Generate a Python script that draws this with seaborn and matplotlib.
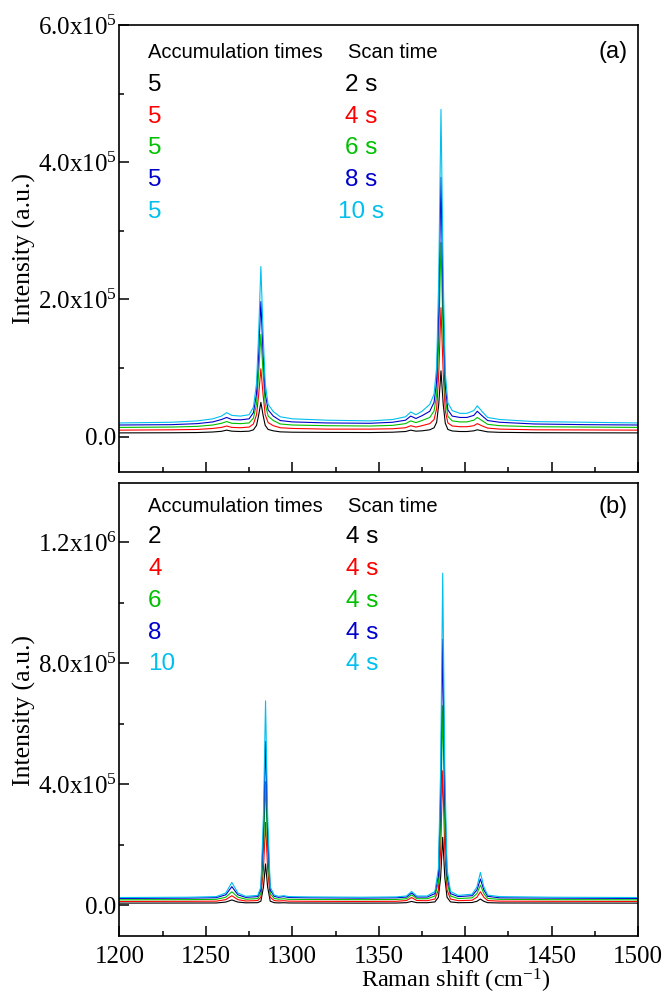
import pandas as pd
import matplotlib
matplotlib.use("Agg")
import matplotlib.pyplot as plt
from matplotlib.ticker import FixedLocator, MultipleLocator, FixedFormatter
import seaborn as sns

# intensities are given in units of 1e3 counts
UNIT = 1e3

# panel (a): 5 accumulations, scan time 2-10 s
shift_a = [1200, 1230, 1245, 1254, 1259, 1262, 1265, 1270, 1275, 1277.5,
           1279.3, 1280.5, 1281.8, 1283.1, 1284.3, 1286, 1289, 1293, 1300, 1320,
           1345, 1358, 1365.5, 1368.5, 1371.5, 1375, 1379.5, 1382, 1383.5, 1384.7,
           1386, 1387.3, 1388.5, 1390, 1392.5, 1397, 1401, 1405, 1407, 1410,
           1413, 1420, 1440, 1470, 1500]
int_a_2s = [5.5, 5.7, 6, 6.8, 7.8, 9.5, 8, 7.5, 8, 10,
            16.5, 31, 50, 31, 16.5, 10.5, 8.5, 7, 6.5, 6.2,
            6, 6.5, 7.5, 9.5, 8, 8.5, 10, 13, 21, 47,
            96, 47, 19.5, 10.5, 8.3, 7.5, 7.5, 8.5, 10, 8.5,
            7, 6.3, 5.8, 5.6, 5.5]
int_a_4s = [9.5, 10, 10.5, 12, 13.5, 15.5, 13.5, 13, 14, 18.5,
            32, 60.5, 99, 60.5, 32, 20.5, 16, 13, 12, 11,
            11, 11.5, 13, 16, 14, 16, 19, 25, 41, 92,
            188, 92, 37.5, 20, 15.6, 14.5, 14.5, 16, 19, 15.5,
            12.5, 11, 10, 9.8, 9.5]
int_a_6s = [13.5, 14, 15, 17, 19.5, 22, 19.5, 19, 20, 27,
            48, 91, 149, 91, 48, 30, 23.5, 18.5, 17, 16,
            15.5, 16.5, 19, 23, 20.5, 23.5, 28, 37.5, 61, 138,
            283, 138, 56, 29.5, 23, 21.5, 21.5, 24, 28, 23,
            18, 16, 14.5, 14, 13.5]
int_a_8s = [17, 17.5, 19, 21.5, 25, 28, 25, 24.5, 26, 35,
            63, 120, 197, 120, 63, 39, 30, 23.5, 21.5, 20,
            19.5, 21, 24, 30, 26.5, 30.5, 37, 50, 81, 184,
            378, 184, 74, 39, 30, 28, 28, 31, 37, 30,
            23.5, 21, 18.5, 17.5, 17]
int_a_10s = [20, 21, 23, 26, 30, 35, 31, 30, 32, 43,
             78, 150, 248, 150, 78, 47, 36.5, 29, 26, 24,
             23, 25, 29, 36, 32, 37, 47, 62, 102, 232,
             477, 232, 93, 49, 38, 34, 34, 38, 45, 36,
             28, 25, 22, 21, 20]

# panel (b): 2-10 accumulations, scan time 4 s
shift_b = [1200, 1240, 1256, 1261.5, 1265, 1268.5, 1273, 1280, 1281.8, 1283.3,
           1284.5, 1285.7, 1287.2, 1289.5, 1292, 1295, 1298, 1310, 1340, 1360,
           1366, 1369, 1372, 1378, 1382.5, 1384.5, 1385.8, 1387, 1388.2, 1389.5,
           1391.5, 1396, 1404, 1406.8, 1408.8, 1410.8, 1413, 1420, 1450, 1500]
int_b_2 = [6.5, 6.8, 7, 10, 17, 10, 7.5, 8, 13, 60,
           136, 60, 13, 8, 7.2, 7.8, 7, 6.8, 6.5, 6.8,
           8, 12, 8, 7.8, 10.5, 26, 92, 224, 92, 26,
           10.5, 7.8, 8.5, 12.5, 20, 12.5, 8, 7, 6.8, 6.5]
int_b_4 = [12, 12.5, 13, 18, 31, 18, 13.5, 15, 26, 120,
           273, 120, 26, 15, 13.5, 14.5, 13, 12.5, 12, 12.5,
           15, 25, 15, 14.5, 20, 50, 180, 444, 180, 50,
           20, 14.5, 16, 26, 44, 26, 15, 13, 12.5, 12]
int_b_6 = [17.5, 18, 19, 26, 44, 26, 19.5, 21.5, 38, 180,
           408, 180, 38, 22, 19.5, 21, 19, 18.5, 18, 18.5,
           21, 34, 21, 21, 30, 75, 270, 659, 270, 75,
           30, 21.5, 24, 38, 66, 38, 22, 19, 18, 17.5]
int_b_8 = [22, 23, 24.5, 34, 61, 34, 25.5, 28, 50, 240,
           541, 240, 50, 29, 25.5, 28, 25, 24, 23, 24,
           26.5, 40, 26.5, 26.5, 38, 98, 360, 879, 360, 98,
           38, 28, 31, 50, 86, 50, 29, 24, 23, 22]
int_b_10 = [25, 26, 28, 40, 75, 40, 29, 32, 60, 300,
            675, 300, 60, 33, 29, 31, 28, 27, 26, 27,
            30, 45, 30, 30, 45, 120, 450, 1097, 450, 120,
            45, 32, 36, 60, 108, 60, 33, 28, 26, 25]

scan_a = ["2 s", "4 s", "6 s", "8 s", "10 s"]
accum_a = ["5", "5", "5", "5", "5"]
accum_b = ["2", "4", "6", "8", "10"]
scan_b = ["4 s", "4 s", "4 s", "4 s", "4 s"]
colors = ["#000000", "#ff0000", "#00c000", "#0000cc", "#00bfee"]

yticks_a = [0, 2e5, 4e5, 6e5]
ylabels_a = ["0.0", r"2.0x10$^{5}$", r"4.0x10$^{5}$", r"6.0x10$^{5}$"]
yticks_b = [0, 4e5, 8e5, 1.2e6]
ylabels_b = ["0.0", r"4.0x10$^{5}$", r"8.0x10$^{5}$", r"1.2x10$^{6}$"]


def long_frame(shift, series, names):
    parts = []
    for vals, name in zip(series, names):
        parts.append(pd.DataFrame({"shift": shift,
                                   "intensity": [v * UNIT for v in vals],
                                   "series": name}))
    return pd.concat(parts, ignore_index=True)


df_a = long_frame(shift_a, [int_a_2s, int_a_4s, int_a_6s, int_a_8s, int_a_10s], scan_a)
df_b = long_frame(shift_b, [int_b_2, int_b_4, int_b_6, int_b_8, int_b_10], accum_b)

sns.set_style("ticks")
plt.rcParams["font.family"] = ["Liberation Serif", "DejaVu Serif"]
plt.rcParams["mathtext.fontset"] = "custom"
plt.rcParams["mathtext.rm"] = "Liberation Serif"
plt.rcParams["mathtext.it"] = "Liberation Serif"
plt.rcParams["axes.linewidth"] = 1.2
for key in ["text.color", "axes.edgecolor", "xtick.color", "ytick.color",
            "axes.labelcolor"]:
    plt.rcParams[key] = "black"

fig = plt.figure(figsize=(6.66, 9.94), dpi=100)
ax_a = fig.add_axes([0.1794, 0.5255, 0.7786, 0.4493])
ax_b = fig.add_axes([0.1794, 0.0584, 0.7786, 0.4557])

sns.lineplot(data=df_a, x="shift", y="intensity", hue="series", hue_order=scan_a,
             palette=dict(zip(scan_a, colors)), legend=False, linewidth=0.8,
             estimator=None, ax=ax_a)
sns.lineplot(data=df_b, x="shift", y="intensity", hue="series", hue_order=accum_b,
             palette=dict(zip(accum_b, colors)), legend=False, linewidth=0.8,
             estimator=None, ax=ax_b)

ax_a.set_ylim(-0.51e5, 6.0e5)
ax_b.set_ylim(-1.02e5, 1.395e6)

for ax, ticks, labels, minor in [(ax_a, yticks_a, ylabels_a, 1e5),
                                 (ax_b, yticks_b, ylabels_b, 2e5)]:
    ax.set_xlim(1200, 1500)
    ax.xaxis.set_major_locator(MultipleLocator(50))
    ax.xaxis.set_minor_locator(MultipleLocator(25))
    ax.yaxis.set_major_locator(FixedLocator(ticks))
    ax.yaxis.set_major_formatter(FixedFormatter(labels))
    ax.yaxis.set_minor_locator(MultipleLocator(minor))
    ax.tick_params(which="major", direction="in", length=7, width=1.1,
                   labelsize=18)
    ax.tick_params(which="minor", direction="in", length=3.5, width=1.1)
    ax.tick_params(axis="y", which="major", pad=2)
    ax.tick_params(axis="x", which="major", pad=7)
    ax.set_xlabel("")
    ax.set_ylabel("")
    for side in ["top", "right"]:
        ax.spines[side].set_visible(True)

ax_a.tick_params(axis="x", labelbottom=False)

# legend-like text blocks
sans = ["Liberation Sans", "DejaVu Sans"]
for ax, acc, scan, tag, y_head, y_rows, x2 in [
        (ax_a, accum_a, scan_a, "(a)", 0.939,
         [0.8655, 0.7939, 0.7245, 0.6529, 0.5812], 0.4658),
        (ax_b, accum_b, scan_b, "(b)", 0.947,
         [0.8808, 0.8102, 0.7395, 0.6689, 0.6004], 0.4687)]:
    ax.text(0.055, y_head, "Accumulation times", transform=ax.transAxes,
            ha="left", va="center", fontsize=14.5, family=sans)
    ax.text(0.44, y_head, "Scan time", transform=ax.transAxes,
            ha="left", va="center", fontsize=14.5, family=sans)
    ax.text(0.979, y_head, tag, transform=ax.transAxes,
            ha="right", va="center", fontsize=17, family=sans)
    for a_txt, s_txt, yy, col in zip(acc, scan, y_rows, colors):
        ax.text(0.055, yy, a_txt, transform=ax.transAxes, color=col,
                ha="left", va="center", fontsize=17.5, family=sans)
        ax.text(x2, yy, s_txt, transform=ax.transAxes, color=col,
                ha="center", va="center", fontsize=17.5, family=sans)

fig.text(0.037, 0.75, "Intensity (a.u.)", rotation=90, ha="center",
         va="center", fontsize=18.5)
fig.text(0.037, 0.285, "Intensity (a.u.)", rotation=90, ha="center",
         va="center", fontsize=18.5)
fig.text(0.685, 0.0065, r"Raman shift (cm$^{-1}$)", ha="center",
         va="baseline", fontsize=17.5)

fig.savefig("out.png", dpi=100)
